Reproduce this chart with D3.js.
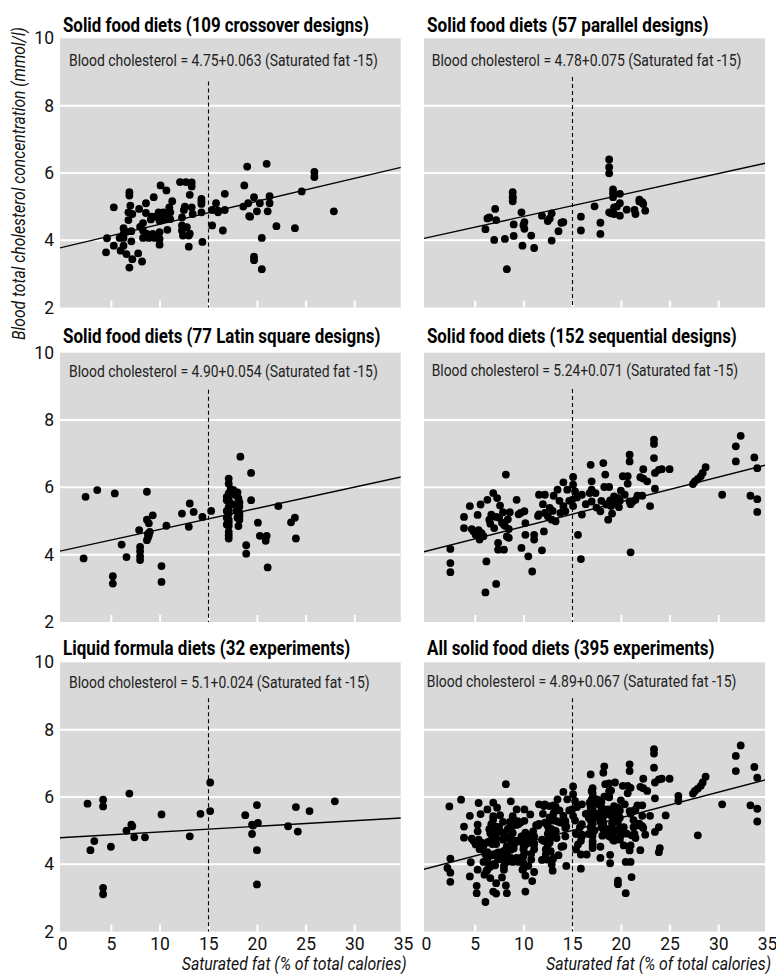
<!DOCTYPE html>
<html><head><meta charset="utf-8">
<script src="https://cdn.jsdelivr.net/npm/d3@7"></script>
<style>
html,body{margin:0;padding:0;background:#fff;}
svg{display:block;}
text{font-family:Roboto,'Liberation Sans',sans-serif;fill:#111;}
</style></head><body><svg id="chart" width="776" height="974"></svg>
<script>
// ---------------- DATA ----------------
const titles = [
  "Solid food diets (109 crossover designs)",
  "Solid food diets (57 parallel designs)",
  "Solid food diets (77 Latin square designs)",
  "Solid food diets (152 sequential designs)",
  "Liquid formula diets (32 experiments)",
  "All solid food diets (395 experiments)"
];
const equations = [
  "Blood cholesterol = 4.75+0.063 (Saturated fat -15)",
  "Blood cholesterol = 4.78+0.075 (Saturated fat -15)",
  "Blood cholesterol = 4.90+0.054 (Saturated fat -15)",
  "Blood cholesterol = 5.24+0.071 (Saturated fat -15)",
  "Blood cholesterol = 5.1+0.024 (Saturated fat -15)",
  "Blood cholesterol = 4.89+0.067 (Saturated fat -15)"
];
// fitted line as drawn: cholesterol at saturated fat = 0 and = 35
const lineAt0  = [3.79, 4.07, 4.12, 4.10, 4.79, 3.87];
const lineAt35 = [6.18, 6.30, 6.32, 6.67, 5.38, 6.52];
const referenceFat = 15;
const yTickValues = [2, 4, 6, 8, 10];
const xTickValues = [0, 5, 10, 15, 20, 25, 30, 35];
const gridValues = [4, 6, 8];
const yTitle = "Blood total cholesterol concentration (mmol/l)";
const xTitle = "Saturated fat (% of total calories)";

// [saturated fat %, blood cholesterol mmol/l]
const crossover = [[4.5,3.64],[4.6,4.06],[5.3,4.98],[5.3,3.84],[5.9,4.07],[6.0,3.69],[6.3,4.36],[6.3,4.07],[6.3,3.84],[6.6,3.59],[6.9,5.43],[6.9,5.33],[6.8,4.83],[6.8,4.60],[7.0,5.03],[7.1,4.27],[7.1,3.97],[7.2,3.44],[6.9,3.19],[7.8,3.61],[8.2,3.37],[7.9,4.93],[8.3,4.51],[8.3,4.29],[8.3,4.07],[8.6,5.10],[8.6,4.81],[8.9,4.07],[9.2,4.70],[9.4,5.28],[9.3,4.19],[9.5,4.07],[9.9,4.83],[10.0,4.58],[10.0,4.24],[10.0,4.04],[10.0,3.87],[10.1,5.63],[10.4,4.83],[10.5,4.63],[10.7,5.48],[10.8,4.31],[11.1,4.83],[11.1,4.63],[11.3,5.16],[12.1,5.73],[12.3,4.68],[12.3,4.29],[12.4,4.14],[12.5,4.90],[12.7,5.73],[12.8,4.39],[13.0,4.14],[13.0,3.81],[13.1,5.35],[13.3,5.60],[13.3,4.98],[13.4,4.78],[14.3,5.23],[14.3,5.08],[14.3,4.83],[14.4,3.95],[15.4,4.90],[15.4,4.44],[15.8,5.10],[16.0,4.83],[16.5,4.29],[16.7,4.90],[16.7,5.38],[18.6,5.00],[18.7,5.63],[19.0,6.19],[19.1,5.10],[19.3,4.70],[19.7,5.28],[19.7,3.51],[19.7,3.41],[20.0,4.86],[20.3,5.10],[20.5,4.07],[20.5,3.14],[21.0,6.27],[21.1,4.86],[21.3,5.31],[21.3,5.10],[22.0,4.42],[23.9,4.36],[24.6,5.45],[25.9,6.03],[25.9,5.88],[27.9,4.86],
  [6.3,4.19],[7.2,4.78],[8.7,4.19],[9.1,4.62],[9.6,4.70],[10.2,4.70],[10.7,4.70],[11.0,4.98],[12.3,4.44],[12.6,5.00],[13.1,4.20],[13.3,5.72],[14.3,5.15],[9.8,4.15],[8.0,4.40],[6.6,4.25],[16.0,4.88],[19.2,4.72]];

const parallel = [[6.1,4.33],[6.5,4.68],[7.1,4.93],[7.2,4.60],[7.0,4.01],[8.1,4.04],[8.3,3.14],[8.9,5.43],[8.9,5.30],[8.9,5.16],[9.0,4.47],[9.0,4.13],[9.8,4.83],[10.1,4.54],[10.1,4.34],[9.9,3.84],[10.8,4.14],[11.1,3.77],[11.9,4.73],[12.5,4.57],[12.9,4.80],[12.9,3.99],[13.6,4.27],[13.9,4.52],[14.1,4.54],[15.9,4.70],[15.9,4.29],[17.3,5.01],[17.9,4.52],[17.9,4.19],[18.8,6.40],[18.8,6.17],[18.8,5.99],[18.8,4.83],[19.2,5.51],[19.2,5.28],[19.3,4.98],[19.3,4.78],[19.9,5.38],[19.9,5.10],[19.9,4.73],[20.6,4.91],[21.4,4.90],[21.5,4.78],[21.9,5.21],[22.2,5.13],[22.3,5.08],[22.5,4.88],
  [6.3,4.65],[8.9,5.25],[10.0,4.45],[12.7,4.65],[19.0,4.80],[19.6,5.00],[19.2,5.40],[21.9,5.15],[14.0,4.53]];

const latinSquare = [[2.2,3.89],[2.4,5.72],[3.6,5.92],[5.2,3.36],[5.2,3.14],[5.4,5.82],[6.1,4.30],[6.6,3.93],[7.9,4.73],[8.0,4.23],[8.0,3.95],[8.0,3.84],[8.7,5.87],[8.7,5.04],[8.9,4.93],[8.7,4.43],[8.9,4.58],[9.0,4.68],[9.3,5.17],[10.2,3.66],[10.2,3.19],[10.7,4.86],[12.3,5.22],[13.0,4.83],[13.1,5.52],[13.5,5.27],[14.4,5.12],[15.3,5.30],[17.1,6.26],[17.1,6.11],[17.1,5.82],[16.9,5.62],[17.1,5.42],[17.1,5.22],[17.1,5.04],[17.1,4.85],[17.1,4.68],[17.1,4.48],[17.6,5.92],[17.8,5.77],[18.1,5.67],[18.2,5.42],[18.2,5.24],[18.2,5.04],[18.1,4.85],[18.3,6.91],[18.9,4.28],[18.9,4.03],[19.4,6.43],[19.4,5.62],[20.1,4.95],[20.3,4.56],[21.0,4.56],[20.9,4.41],[21.1,3.62],[22.2,5.44],[23.5,4.96],[23.9,5.10],[24.0,4.48],
  [16.9,5.30],[16.9,5.10],[16.9,4.90],[17.1,5.65],[17.3,5.95],[17.5,5.50],[17.9,5.30],[18.0,5.10],[18.2,5.55],[18.0,5.85],[17.1,5.32],[17.1,4.95],[8.8,4.50],[8.8,4.62],[8.0,4.10],[18.2,5.15],[16.9,5.72],[17.1,4.58]];

const sequential = [[2.5,4.17],[2.5,3.75],[2.5,3.48],[3.9,5.12],[3.9,4.79],[4.5,5.44],[4.7,4.76],[4.9,4.69],[5.1,4.59],[5.3,5.18],[5.4,4.73],[5.5,4.45],[5.6,4.59],[5.6,5.49],[5.7,4.64],[6.1,2.88],[6.2,3.80],[6.3,5.63],[6.5,5.04],[6.7,5.19],[6.9,5.83],[7.0,4.79],[7.2,5.12],[7.2,3.13],[7.3,5.68],[7.4,4.35],[7.4,4.15],[7.6,5.46],[7.9,5.26],[8.0,4.89],[8.0,4.15],[8.1,4.86],[8.2,6.38],[8.3,4.54],[8.5,4.76],[8.5,4.50],[8.6,5.26],[9.3,5.63],[9.7,5.24],[9.8,4.20],[10.1,5.29],[10.2,4.94],[10.2,4.59],[10.5,3.95],[10.9,3.50],[11.1,4.59],[11.1,4.45],[11.6,5.78],[11.6,5.20],[11.9,4.13],[12.1,4.69],[12.2,5.78],[12.2,5.24],[12.5,5.14],[12.7,5.39],[12.9,5.04],[13.1,5.75],[13.3,4.99],[13.5,5.93],[13.8,5.24],[14.1,6.15],[14.1,5.44],[14.3,5.29],[14.5,5.93],[15.0,5.63],[15.1,5.44],[15.1,6.31],[15.1,6.08],[15.3,5.88],[15.6,4.59],[15.9,3.87],[16.0,5.19],[16.0,5.78],[16.8,5.83],[16.9,6.67],[17.0,6.18],[17.0,5.93],[17.0,5.58],[17.4,5.83],[17.9,5.29],[18.2,6.72],[18.3,6.01],[18.4,6.38],[18.5,5.49],[18.7,5.04],[18.8,6.01],[18.9,5.61],[19.0,5.44],[19.1,5.22],[19.3,5.73],[19.7,5.68],[19.8,5.41],[19.9,5.60],[20.2,6.33],[20.4,5.78],[20.7,6.11],[20.7,6.33],[20.9,6.97],[20.9,6.77],[21.0,4.07],[20.9,5.58],[21.2,5.58],[21.5,5.63],[21.7,5.75],[22.2,5.75],[22.3,6.54],[22.3,6.26],[22.7,6.18],[23.0,5.44],[23.4,7.42],[23.4,7.29],[23.4,6.87],[23.5,6.43],[23.5,5.96],[23.9,6.52],[24.2,6.54],[25.0,6.54],[27.4,6.10],[27.6,6.18],[27.9,6.25],[28.2,6.33],[28.4,6.43],[28.7,6.60],[30.4,5.78],[31.8,7.22],[31.8,6.77],[32.3,7.53],[33.3,5.75],[33.7,6.89],[34.0,6.57],[34.0,5.65],[34.0,5.27],
  [5.2,4.65],[5.9,4.55],[6.6,4.92],[7.5,5.10],[8.4,5.05],[9.5,5.20],[11.5,5.15],[12.0,5.50],[13.0,5.30],[13.7,5.60],[14.7,5.60],[15.5,5.70],[16.4,5.50],[17.5,5.40],[18.0,5.60],[19.4,5.55],[20.0,5.90],[21.0,5.50],[22.0,6.30],[7.8,4.95]];

const liquidFormula = [[2.6,5.80],[2.9,4.42],[3.3,4.69],[4.2,5.92],[4.2,5.72],[4.2,3.30],[4.2,3.11],[5.0,4.52],[6.6,5.00],[6.9,6.10],[7.1,5.18],[7.4,4.80],[8.5,4.80],[10.2,5.48],[13.1,4.83],[14.2,5.50],[15.2,6.43],[15.2,5.58],[18.8,5.46],[19.5,5.18],[19.5,4.90],[20.0,5.76],[20.1,5.23],[20.0,4.42],[20.0,3.40],[23.2,5.13],[24.0,5.70],[24.2,4.97],[25.4,5.58],[28.0,5.87],[19.6,5.15],[7.2,5.13]];

// all solid food experiments = the four solid food design groups together
const allSolid = crossover.concat(parallel, latinSquare, sequential);

const seriesList = [crossover, parallel, latinSquare, sequential, liquidFormula, allSolid];

// ---------------- LAYOUT ----------------
const svg = d3.select("#chart");
const colRect  = [[60, 400.7], [424, 765]];
const colRange = [[62.2, 403], [426, 767]];
const rowTop = [38.3, 352.7, 662.3];
const panelH = 269.3;
const titleDy = [-6.6, -9.4, -7.3];
const titleW = [306, 281.7, 317.7, 310, 287.7, 287.7];
const eqDx = [9, 7.7, 9, 7.7, 9, 2.7];
const eqDy = [27.4, 27.4, 24.5, 23, 25.4, 24.4];
const eqW = [309, 310, 309, 306.7, 301, 310];
const dashTop = [8.72, 8.85, 8.9, 8.92, 8.93, 8.93];
const bg = "#d9d9d9";

// place a text at (tx,ty) and squeeze it horizontally to a condensed width
function condensed(sel, tx, ty, width, extra) {
  sel.attr("x", 0).attr("y", 0);
  const natural = sel.node().getComputedTextLength();
  const s = Math.min(1, width / natural);
  sel.attr("transform", `translate(${tx},${ty})${extra || ""} scale(${s},1)`);
  return sel;
}

seriesList.forEach((data, i) => {
  const col = i % 2, row = Math.floor(i / 2);
  const left = colRect[col][0], right = colRect[col][1];
  const top = rowTop[row], bottom = top + panelH;
  const x = d3.scaleLinear().domain([0, 35]).range(colRange[col]);
  const y = d3.scaleLinear().domain([2, 10]).range([bottom, top]);
  const fit = d3.scaleLinear().domain([0, 35]).range([lineAt0[i], lineAt35[i]]);

  const g = svg.append("g");
  const clipId = "clip" + i;
  svg.append("clipPath").attr("id", clipId).append("rect")
    .attr("x", left).attr("y", top).attr("width", right - left).attr("height", panelH);

  g.append("rect").attr("x", left).attr("y", top)
    .attr("width", right - left).attr("height", panelH).attr("fill", bg);

  g.selectAll("line.grid").data(gridValues).enter().append("line")
    .attr("x1", left).attr("x2", right)
    .attr("y1", d => y(d)).attr("y2", d => y(d))
    .attr("stroke", "#fff").attr("stroke-width", 2);

  // inner white tick marks
  const tickAxis = d3.axisBottom(x).tickValues(xTickValues.slice(1, -1)).tickSize(-7).tickFormat("");
  const ta = g.append("g").attr("transform", `translate(0,${bottom})`).call(tickAxis);
  ta.select(".domain").remove();
  ta.selectAll("line").attr("stroke", "#fff").attr("stroke-width", 2);

  // reference dashed line
  g.append("line")
    .attr("x1", Math.round(x(referenceFat)) + 0.5).attr("x2", Math.round(x(referenceFat)) + 0.5)
    .attr("y1", y(dashTop[i])).attr("y2", bottom)
    .attr("stroke", "#000").attr("stroke-width", 1.1).attr("stroke-dasharray", "4,3");

  // points
  g.append("g").selectAll("circle").data(data).enter().append("circle")
    .attr("cx", d => x(d[0])).attr("cy", d => y(d[1])).attr("r", 3.9).attr("fill", "#000");

  // fitted line
  g.append("line").attr("clip-path", `url(#${clipId})`)
    .attr("x1", x(-1)).attr("y1", y(fit(-1)))
    .attr("x2", x(36)).attr("y2", y(fit(36)))
    .attr("stroke", "#000").attr("stroke-width", 1.4);

  // equation
  condensed(g.append("text").attr("font-size", 17).style("fill", "#222").text(equations[i]),
    left + eqDx[i], top + eqDy[i], eqW[i]);

  // title
  condensed(g.append("text").attr("font-size", 20).attr("font-weight", "bold").style("fill", "#000").text(titles[i]),
    left + 3, top + titleDy[row], titleW[i]);

  if (col === 0) {
    const ya = g.append("g").attr("transform", `translate(${left},0)`)
      .call(d3.axisLeft(y).tickValues(yTickValues).tickSize(0).tickPadding(6).tickFormat(d3.format("d")));
    ya.select(".domain").remove();
    ya.selectAll("text").attr("font-size", 17.5).attr("font-family", null).style("fill", "#111");
  }
  if (row === 2) {
    const xa = g.append("g").attr("transform", `translate(0,${bottom})`)
      .call(d3.axisBottom(x).tickValues(xTickValues).tickSize(0).tickPadding(6).tickFormat(d3.format("d")));
    xa.select(".domain").remove();
    xa.selectAll("text").attr("font-size", 17.5).attr("font-family", null).style("fill", "#111");
    condensed(g.append("text").attr("text-anchor", "end").attr("font-size", 17.5)
      .attr("font-style", "italic").text(xTitle), right + 6, 970, 225);
  }
});

condensed(svg.append("text").attr("text-anchor", "middle").attr("font-size", 17.5)
  .attr("font-style", "italic").text(yTitle), 25, 183.5, 313, " rotate(-90)");
</script></body></html>
